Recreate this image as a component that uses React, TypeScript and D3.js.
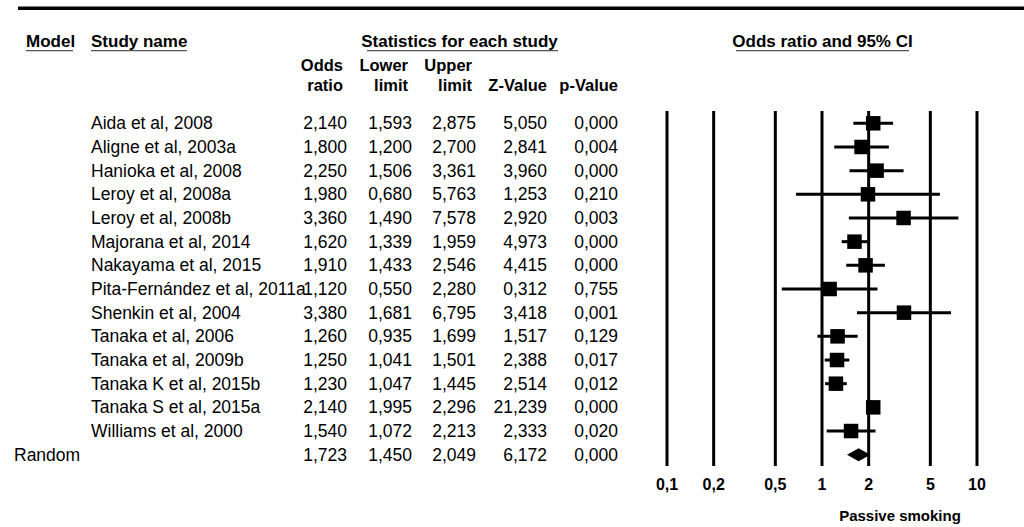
import * as d3 from 'd3'

// study rows
const studies = [
  'Aida et al, 2008',
  'Aligne et al, 2003a',
  'Hanioka et al, 2008',
  'Leroy et al, 2008a',
  'Leroy et al, 2008b',
  'Majorana et al, 2014',
  'Nakayama et al, 2015',
  'Pita-Fernández et al, 2011a',
  'Shenkin et al, 2004',
  'Tanaka et al, 2006',
  'Tanaka et al, 2009b',
  'Tanaka K et al, 2015b',
  'Tanaka S et al, 2015a',
  'Williams et al, 2000',
]
const oddsRatio = [2.14, 1.8, 2.25, 1.98, 3.36, 1.62, 1.91, 1.12, 3.38, 1.26, 1.25, 1.23, 2.14, 1.54]
const lowerLimit = [1.593, 1.2, 1.506, 0.68, 1.49, 1.339, 1.433, 0.55, 1.681, 0.935, 1.041, 1.047, 1.995, 1.072]
const upperLimit = [2.875, 2.7, 3.361, 5.763, 7.578, 1.959, 2.546, 2.28, 6.795, 1.699, 1.501, 1.445, 2.296, 2.213]
const zValue = [5.05, 2.841, 3.96, 1.253, 2.92, 4.973, 4.415, 0.312, 3.418, 1.517, 2.388, 2.514, 21.239, 2.333]
const pValue = [0, 0.004, 0, 0.21, 0.003, 0, 0, 0.755, 0.001, 0.129, 0.017, 0.012, 0, 0.02]

// pooled (random effects) row
const pooledLabel = 'Random'
const pooledStats = [1.723, 1.45, 2.049, 6.172, 0]

const tickValues = [0.1, 0.2, 0.5, 1, 2, 5, 10]
const columnHeads = [
  ['Odds', 'ratio'],
  ['Lower', 'limit'],
  ['Upper', 'limit'],
  ['', 'Z-Value'],
  ['', 'p-Value'],
]

const W = 1024
const H = 527
const FONT = '"Liberation Sans", Arial, Helvetica, sans-serif'

const locale = d3.formatLocale({ decimal: ',', thousands: '.', grouping: [3], currency: ['', ''] })
const fmt3 = locale.format('.3f')
const fmtTick = locale.format('~g')

export default function App() {
  const rowKeys = [...studies, pooledLabel]
  const y = d3.scalePoint<string>().domain(rowKeys).range([123.3, 454.7])
  const x = d3.scaleLog().domain([0.1, 10]).range([667, 977])

  // right edges of the numeric columns
  const colRight = [347, 412, 476, 547, 618]

  const rows = studies.map((s, i) => ({
    name: s,
    vals: [oddsRatio[i], lowerLimit[i], upperLimit[i], zValue[i], pValue[i]],
  }))

  const box = 14.5
  const yp = y(pooledLabel)!
  const diamond = d3.line()([
    [x(pooledStats[1]), yp],
    [x(pooledStats[0]), yp - 6.5],
    [x(pooledStats[2]), yp],
    [x(pooledStats[0]), yp + 6.5],
    [x(pooledStats[1]), yp],
  ])

  return (
    <>
      <style>{'body{margin:0}'}</style>
      <svg width={W} height={H} style={{ display: 'block', fontFamily: FONT }}>
        <rect width={W} height={H} fill="#fff" />
        <line x1={18} x2={W} y1={8.3} y2={8.3} stroke="#000" strokeWidth={3.4} />

        {/* section headers */}
        <g fontWeight={700} fontSize={17}>
          <text x={26} y={46.5}>Model</text>
          <line x1={26} x2={73} y1={50.7} y2={50.7} stroke="#555" strokeWidth={1.2} />
          <text x={91} y={46.5}>Study name</text>
          <line x1={91} x2={187} y1={50.7} y2={50.7} stroke="#555" strokeWidth={1.2} />
          <text x={459.5} y={46.5} textAnchor="middle">Statistics for each study</text>
          <line x1={367} x2={558} y1={50.7} y2={50.7} stroke="#555" strokeWidth={1.2} />
          <text x={822.5} y={46.5} textAnchor="middle">Odds ratio and 95% CI</text>
          <line x1={736} x2={909} y1={50.7} y2={50.7} stroke="#555" strokeWidth={1.2} />
        </g>

        <g fontWeight={700} fontSize={16.5}>
          {columnHeads.map((h, j) => (
            <g key={j}>
              <text x={colRight[j] - (j < 3 ? 4 : 0)} y={71} textAnchor="end">{h[0]}</text>
              <text x={colRight[j] - (j < 3 ? 4 : 0)} y={90.5} textAnchor="end">{h[1]}</text>
            </g>
          ))}
        </g>

        {/* table rows */}
        <g fontSize={17.5}>
          {rows.map((r) => (
            <g key={r.name} transform={`translate(0,${y(r.name)! + 6})`}>
              <text x={91}>{r.name}</text>
              {r.vals.map((v, j) => (
                <text key={j} x={colRight[j]} textAnchor="end">{fmt3(v)}</text>
              ))}
            </g>
          ))}
          <g transform={`translate(0,${yp + 6})`}>
            <text x={14}>{pooledLabel}</text>
            {pooledStats.map((v, j) => (
              <text key={j} x={colRight[j]} textAnchor="end">{fmt3(v)}</text>
            ))}
          </g>
        </g>

        {/* forest plot */}
        <g stroke="#000" strokeWidth={3}>
          {tickValues.map((t) => (
            <line key={t} x1={x(t)} x2={x(t)} y1={111} y2={466} />
          ))}
        </g>
        <g>
          {rows.map((r, i) => {
            const cy = y(r.name)!
            return (
              <g key={r.name}>
                <line x1={x(lowerLimit[i])} x2={x(upperLimit[i])} y1={cy} y2={cy} stroke="#000" strokeWidth={3} />
                <rect x={x(oddsRatio[i]) - box / 2} y={cy - box / 2} width={box} height={box} fill="#000" />
              </g>
            )
          })}
          <path d={diamond ?? ''} fill="#000" />
        </g>

        <g fontWeight={700} fontSize={16}>
          {tickValues.map((t) => (
            <text key={t} x={x(t)} y={490} textAnchor="middle">{fmtTick(t)}</text>
          ))}
        </g>
        <text x={900} y={521} textAnchor="middle" fontWeight={700} fontSize={15}>Passive smoking</text>
      </svg>
    </>
  )
}
